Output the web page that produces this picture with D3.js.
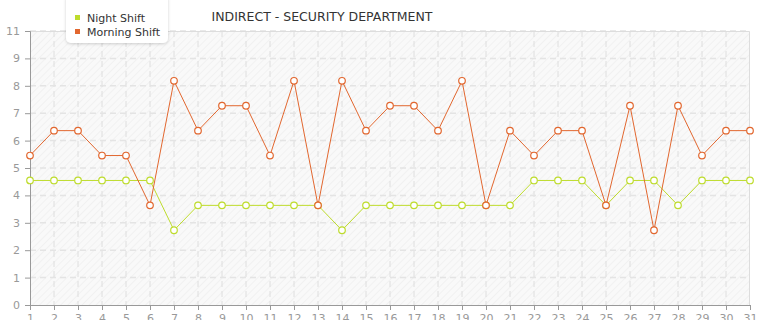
<!DOCTYPE html>
<html>
<head>
<meta charset="utf-8">
<script src="https://cdn.jsdelivr.net/npm/d3@7"></script>
<style>
  body { margin: 0; background: #fff; }
  svg text { font-family: "DejaVu Sans", Verdana, sans-serif; }
</style>
</head>
<body>
<div id="canvas"></div>
<script>
const days = d3.range(1, 32);
const nightShift = [5,5,5,5,5,5,3,4,4,4,4,4,4,3,4,4,4,4,4,4,4,5,5,5,4,5,5,4,5,5,5];
const morningShift = [6,7,7,6,6,4,9,7,8,8,6,9,4,9,7,8,8,7,9,4,7,6,7,7,4,8,3,8,6,7,7];
const seriesNames = ["Night Shift", "Morning Shift"];
const seriesColors = ["#bedc2c", "#e2672f"];
const yTicks = d3.range(0, 11).map(i => i * 1.1);

const width = 765, height = 320;
const margin = { top: 31, left: 30, bottom: 15, right: 15 };
const iwidth = width - margin.left - margin.right;
const iheight = height - margin.top - margin.bottom;

const svg = d3.select("#canvas").append("svg")
  .attr("width", width).attr("height", height);

const defs = svg.append("defs");
const pat = defs.append("pattern")
  .attr("id", "hatch").attr("patternUnits", "userSpaceOnUse")
  .attr("width", 5).attr("height", 5)
  .attr("patternTransform", "rotate(45)");
pat.append("rect").attr("width", 5).attr("height", 5).attr("fill", "#f9f9f9");
pat.append("line").attr("x1", 0).attr("y1", 0).attr("x2", 0).attr("y2", 5)
  .attr("stroke", "#ececec").attr("stroke-width", 1.2);

const shadow = defs.append("filter").attr("id", "shadow")
  .attr("x", "-20%").attr("y", "-20%").attr("width", "140%").attr("height", "150%");
shadow.append("feDropShadow").attr("dx", 0).attr("dy", 1).attr("stdDeviation", 1.5)
  .attr("flood-color", "#000").attr("flood-opacity", 0.18);

const g = svg.append("g").attr("transform", `translate(${margin.left},${margin.top})`);

const x = d3.scaleLinear().domain([1, 31]).range([0, iwidth]);
const y = d3.scaleLinear().domain([0, 11]).range([iheight, 0]);

// fondo rayado
g.append("rect").attr("width", iwidth).attr("height", iheight).attr("fill", "url(#hatch)");

// grid
g.append("g").selectAll("line").data(days.slice(1, -1)).enter().append("line")
  .attr("x1", d => x(d)).attr("x2", d => x(d))
  .attr("y1", 0).attr("y2", iheight)
  .attr("stroke", "#dedede").attr("stroke-dasharray", "6,4");
g.append("g").selectAll("line").data(yTicks.slice(1)).enter().append("line")
  .attr("x1", 0).attr("x2", iwidth)
  .attr("y1", d => y(d)).attr("y2", d => y(d))
  .attr("stroke", "#e4e4e4").attr("stroke-width", 1.5).attr("stroke-dasharray", "6,4");

// borde superior y derecho
g.append("path").attr("d", `M0,0.5H${iwidth - 0.5}V${iheight}`)
  .attr("fill", "none").attr("stroke", "#dddddd");

// ejes
const yAxis = g.append("g")
  .call(d3.axisLeft(y).tickValues(yTicks).tickFormat(d => Math.floor(d + 1e-9)).tickSize(5).tickPadding(5));
const xAxis = g.append("g").attr("transform", `translate(0,${iheight})`)
  .call(d3.axisBottom(x).tickValues(days).tickFormat(d => d).tickSize(5).tickPadding(4));
[yAxis, xAxis].forEach(a => {
  a.select(".domain").attr("stroke", "#999");
  a.selectAll(".tick line").attr("stroke", "#999");
  a.selectAll("text").attr("fill", "#999").style("font-size", "11px");
});

// series
const series = [nightShift, morningShift];
const line = d3.line().x((d, i) => x(days[i])).y(d => y(d));
series.forEach((vals, s) => {
  const sg = g.append("g");
  sg.append("path").datum(vals).attr("d", line)
    .attr("fill", "none").attr("stroke", seriesColors[s]).attr("stroke-width", 1);
  sg.selectAll("circle").data(vals).enter().append("circle")
    .attr("cx", (d, i) => x(days[i])).attr("cy", d => y(d)).attr("r", 3.3)
    .attr("fill", "#fff").attr("stroke", seriesColors[s]).attr("stroke-width", 1.2);
});

// titulo
svg.append("text").attr("x", 322).attr("y", 21).attr("text-anchor", "middle")
  .style("font-size", "12.5px").attr("fill", "#333")
  .text("INDIRECT - SECURITY DEPARTMENT");

// leyenda
const lg = svg.append("g");
lg.append("rect").attr("x", 66).attr("y", -6).attr("width", 102).attr("height", 49).attr("rx", 5)
  .attr("fill", "#fff").attr("filter", "url(#shadow)");
seriesNames.forEach((name, i) => {
  lg.append("rect").attr("x", 75).attr("y", 15 + i * 14).attr("width", 5).attr("height", 5)
    .attr("fill", seriesColors[i]);
  lg.append("text").attr("x", 87).attr("y", 22 + i * 14)
    .style("font-size", "11px").attr("fill", "#333").text(name);
});
</script>
</body>
</html>
